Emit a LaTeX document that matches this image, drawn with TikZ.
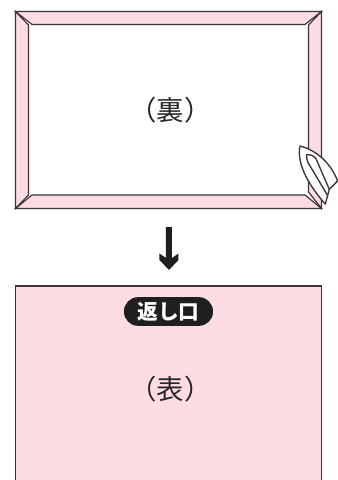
\documentclass[tikz,border=0pt]{standalone}
\usepackage{fontspec}
\newfontfamily\cjk{Noto Sans CJK JP}
\definecolor{pk}{HTML}{FDDDE3}
\definecolor{ln}{HTML}{3A3436}
\tikzset{
  frameline/.style={draw=ln,line width=0.9pt,line join=miter},
  strip/.style={fill=pk,frameline},
  ironline/.style={draw=ln,line width=1pt,line join=round,fill=white},
  lab/.style={inner sep=0pt,font=\cjk\fontsize{20.5}{20.5}\selectfont,text=black!85}
}
\begin{document}
\begin{tikzpicture}[x=0.75pt,y=-0.75pt]
\useasboundingbox (0,0) rectangle (338,480);
% back panel
\fill[white] (15.5,11.5) rectangle (321.5,208.5);
\path[strip] (15.5,11.5) -- (28.5,25) -- (28.5,195) -- (15.5,208.5) -- cycle;
\path[strip] (15.5,208.5) -- (32,195) -- (305,195) -- (321.5,208.5) -- cycle;
\path[strip] (321.5,208.5) -- (308.5,192) -- (308.5,25) -- (321.5,11.5) -- cycle;
\path[strip] (15.5,11.5) -- (32,24.5) -- (305,24.5) -- (321.5,11.5) -- cycle;
\node[lab] (ura) at (170.5,110) {（裏）};
% iron
\path[ironline] (300,146) .. controls (316,150) and (331,163) .. (337.6,181) -- (329.3,189.3) -- (325.3,204) .. controls (311,188) and (296,165) .. cycle;
\draw[ln,line width=1pt,line join=round] (329.3,189.3) -- (316,158.7) .. controls (314,155.5) and (310,154.5) .. (306.7,154.7) .. controls (306.5,157) and (307,160) .. (307.7,162) -- (327.6,195.5);
% arrow
\coordinate (a1) at (169,227);
\coordinate (a2) at (169,270);
\fill[black!88] (166,227) -- (172,227) -- (172,258) -- (178.5,253.5) -- (178.5,260) -- (a2) -- (159.5,260) -- (159.5,253.5) -- (166,258) -- cycle;
% front panel
\path[fill=pk,frameline] (15.5,286) -- (321.5,286) -- (321.5,481) -- (15.5,481) -- cycle;
\node[fill=black!88,rounded corners=10.5pt,minimum width=66.75pt,minimum height=21.5pt,inner sep=0pt,text=white,font=\cjk\bfseries\fontsize{15.5}{15.5}\selectfont] (kaeshi) at (168.5,311.5) {返し口};
\node[lab] (omote) at (170.5,389) {（表）};
\end{tikzpicture}
\end{document}
